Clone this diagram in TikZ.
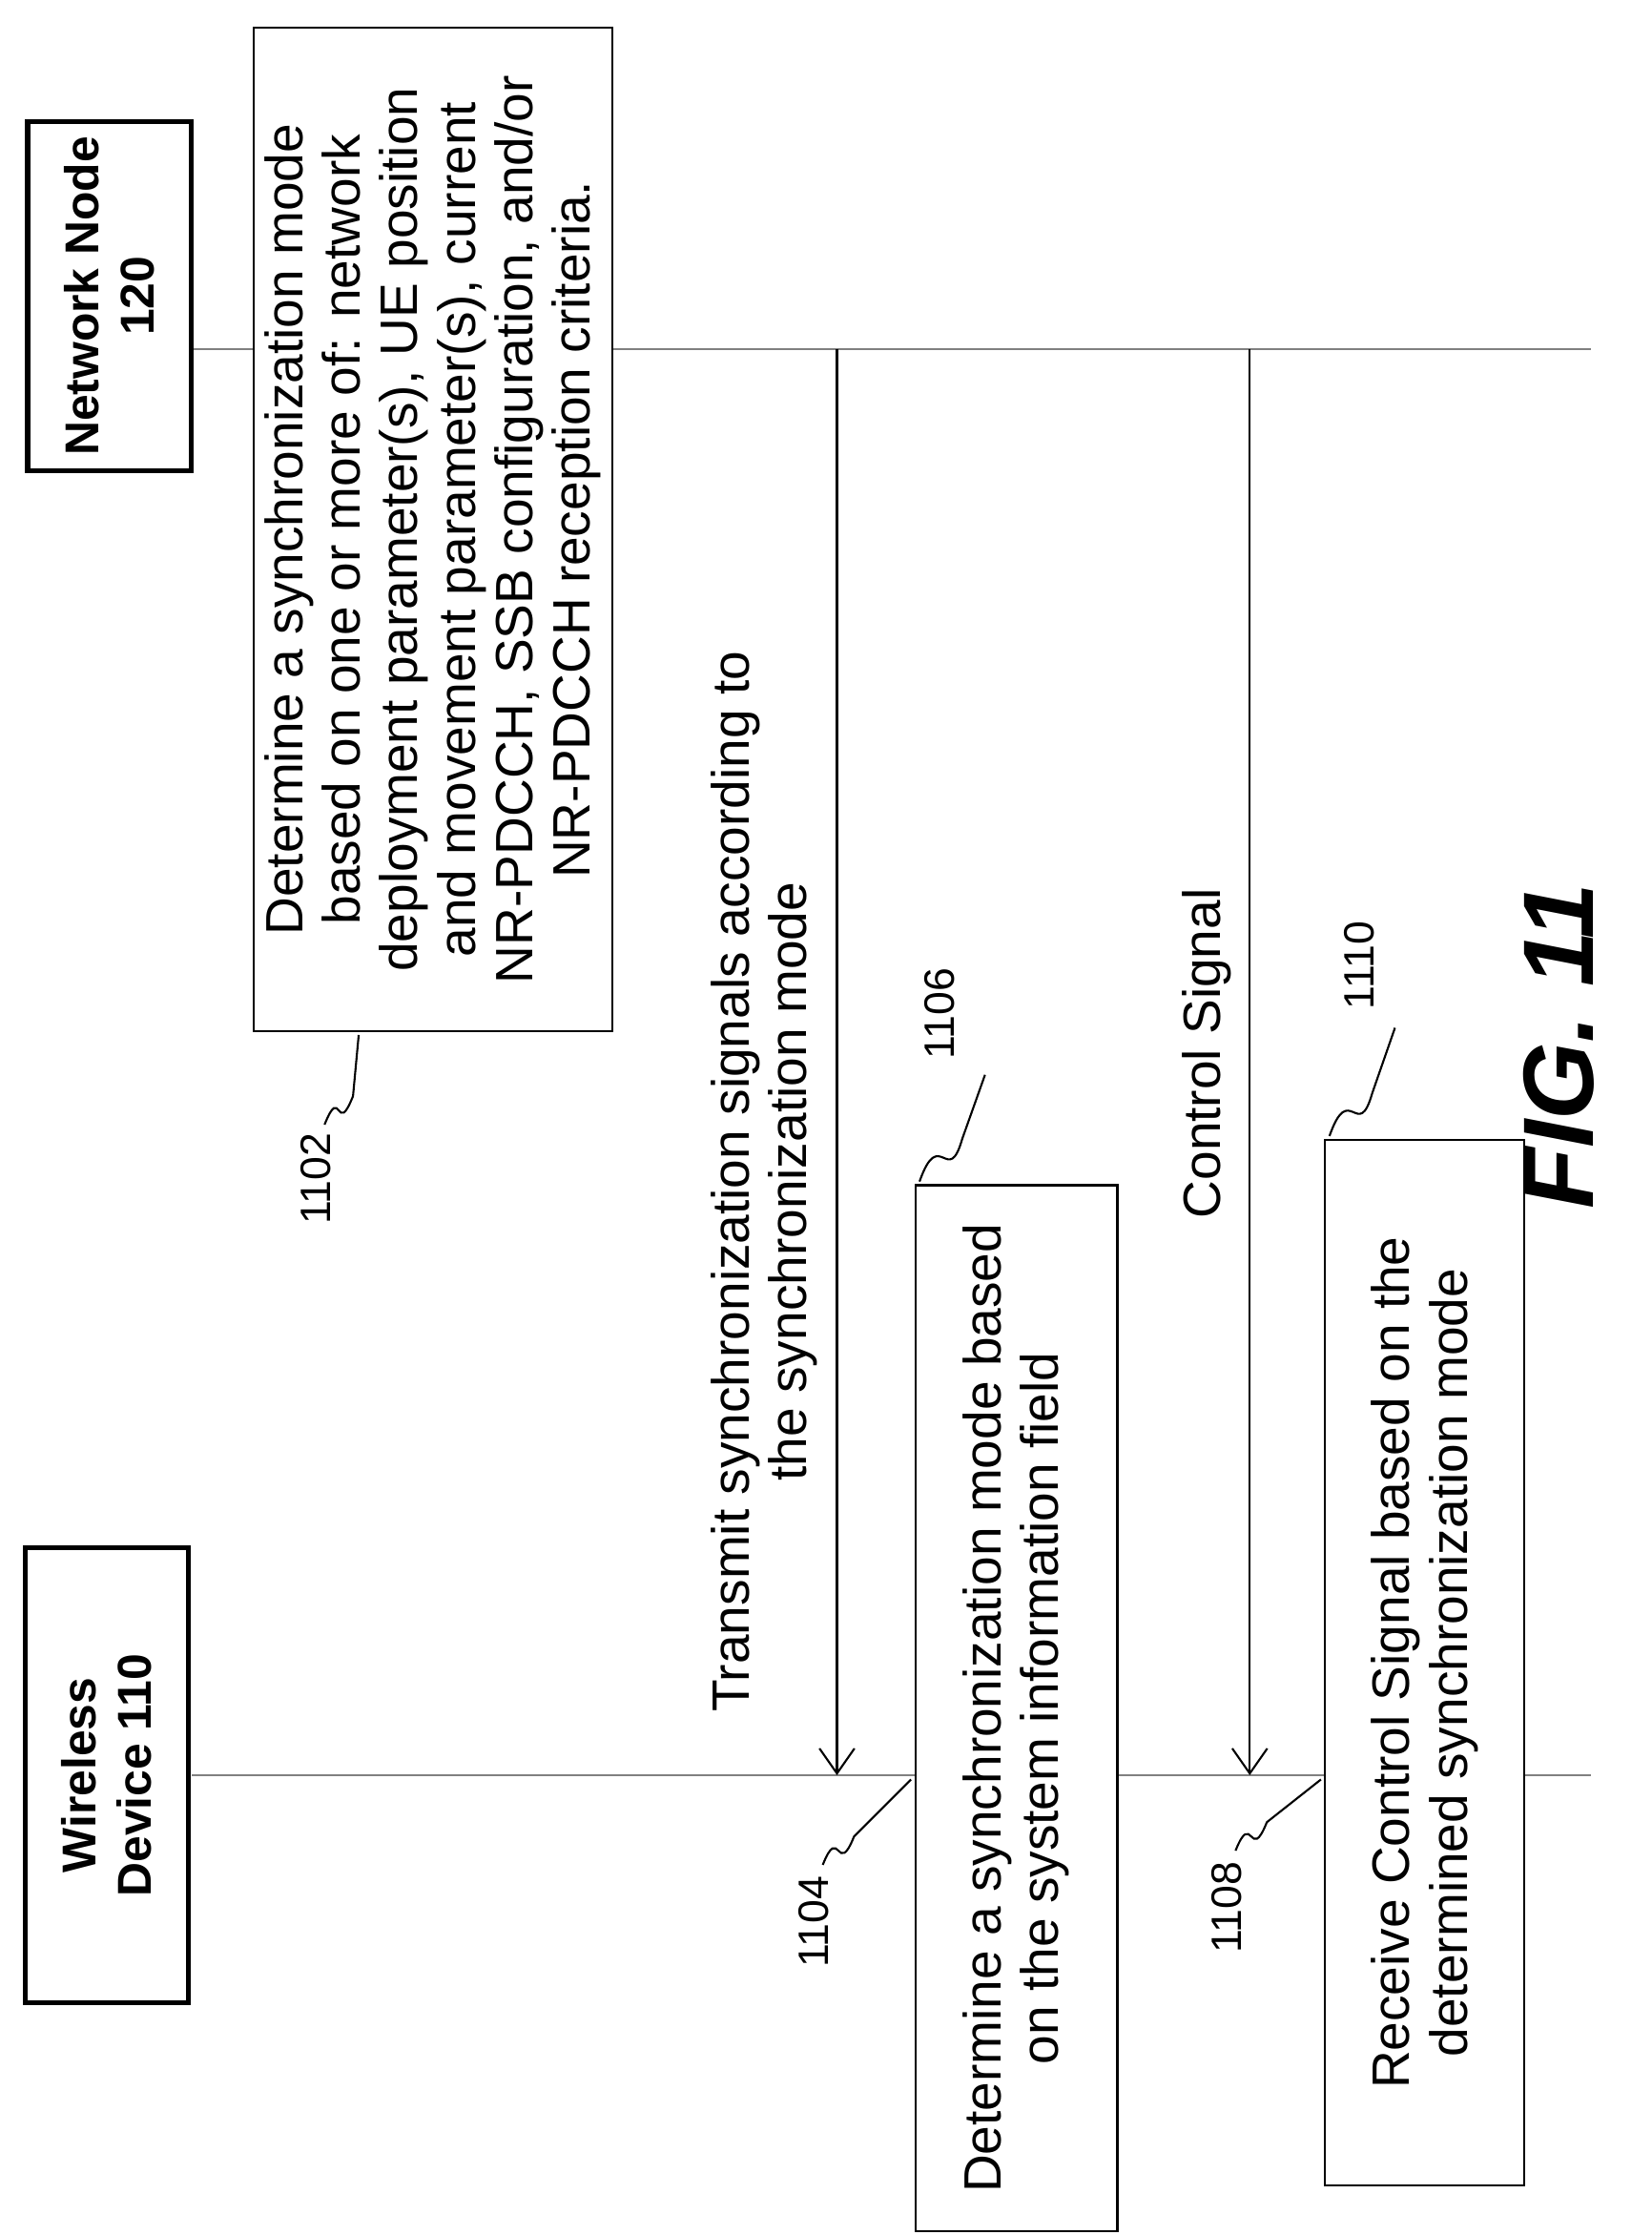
\documentclass[tikz,border=0pt]{standalone}
\usepackage{fontspec}
\setmainfont{Liberation Sans}
\usetikzlibrary{arrows.meta}

\tikzset{
  stepbox/.style={draw,thick,fill=white,rotate=90,align=center,
    font=\fontsize{21}{23}\selectfont,inner sep=4pt},
  actor/.style={draw,line width=2pt,rotate=90,align=center,
    font=\bfseries\fontsize{19}{22}\selectfont,inner sep=6pt},
  msg/.style={thick,-{Straight Barb[length=10pt,width=14pt]}},
  lifeline/.style={thick,gray},
  tag/.style={font=\fontsize{17}{20}\selectfont,rotate=90},
}

\begin{document}
\begin{tikzpicture}[x=0.02cm,y=-0.02cm]
    \useasboundingbox (0,0) rectangle (1160,1570);
    % lifelines
    \draw [lifeline] (135,245) -- (1118,245);
    \draw [lifeline] (135,1247) -- (1118,1247);
    % actors
    \node [actor,minimum width=4.7cm,minimum height=2.3cm] (node) at (77,208)
	{Network Node\\120};
    \node [actor,minimum width=6.4cm,minimum height=2.3cm] (wd) at (75,1247)
	{Wireless\\Device 110};
    % steps
    \node [stepbox,minimum width=14.1cm,minimum height=5.04cm] (determine) at (304,372)
	{Determine a synchronization mode\\based on one or more of: network\\deployment parameter(s), UE position\\and movement parameter(s), current\\NR-PDCCH, SSB configuration, and/or\\NR-PDCCH reception criteria.};
    \node [stepbox,minimum width=14.7cm,minimum height=2.84cm] (detect) at (714,1200)
	{Determine a synchronization mode based\\on the system information field};
    \node [stepbox,minimum width=14.7cm,minimum height=2.8cm] (receive) at (1001,1168)
	{Receive Control Signal based on the\\determined synchronization mode};
    % messages
    \coordinate (tx1) at (588,245);
    \coordinate (rx1) at (588,1247);
    \coordinate (tx2) at (878,245);
    \coordinate (rx2) at (878,1247);
    \draw [msg] (tx1) -- (rx1);
    \draw [msg] (tx2) -- (rx2);
    \node [rotate=90,align=center,font=\fontsize{21}{23}\selectfont] (sync) at (537,830)
	{Transmit synchronization signals according to\\the synchronization mode};
    \node [rotate=90,font=\fontsize{21}{23}\selectfont] (ctrl) at (848,740) {Control Signal};
    % reference numerals
    \node [tag] (n1102) at (222,828) {1102};
    \draw [thick] (228,790) .. controls (240,760) and (236,800) .. (248,770) -- (252,727);
    \node [tag] (n1104) at (572,1350) {1104};
    \draw [thick] (578,1310) .. controls (590,1280) and (588,1320) .. (600,1290) -- (640,1250);
    \node [tag] (n1108) at (862,1340) {1108};
    \draw [thick] (868,1300) .. controls (880,1270) and (878,1310) .. (890,1280) -- (928,1250);
    \node [tag] (n1106) at (660,712) {1106};
    \draw [thick] (646,830) .. controls (660,790) and (666,835) .. (676,800) -- (692,755);
    \node [tag] (n1110) at (955,678) {1110};
    \draw [thick] (934,798) .. controls (948,758) and (954,803) .. (964,768) -- (980,722);
    \node [rotate=90,font=\bfseries\itshape\fontsize{40}{40}\selectfont] (fig) at (1095,735) {FIG. 11};
\end{tikzpicture}
\end{document}
